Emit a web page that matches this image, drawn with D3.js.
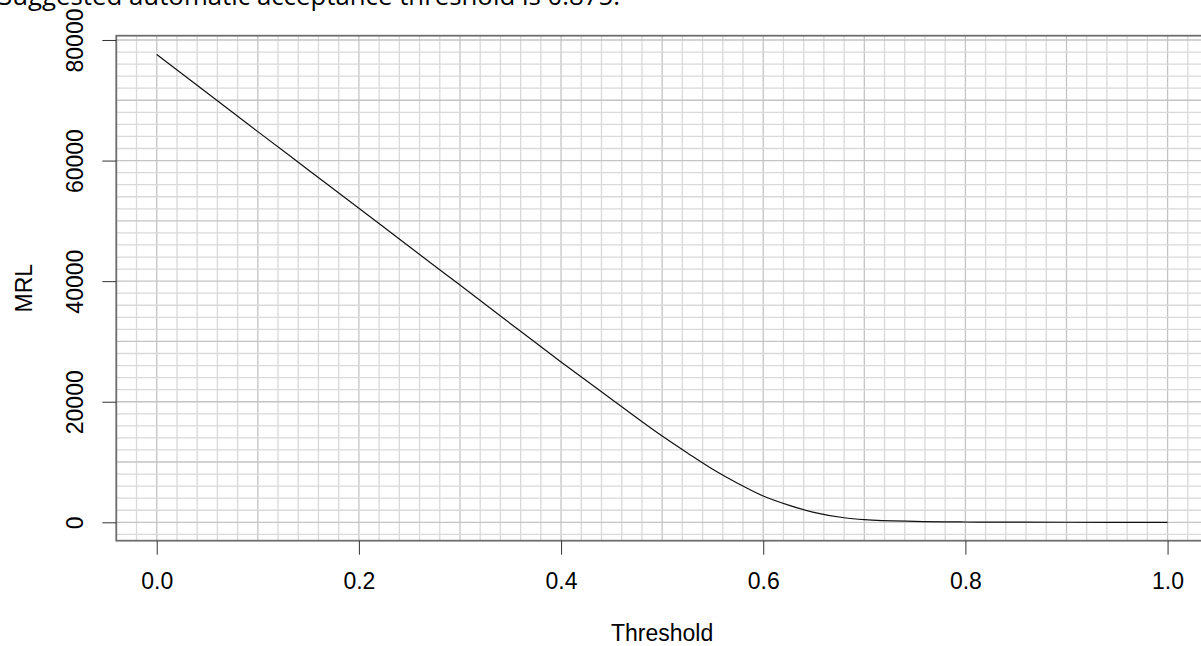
<!DOCTYPE html>
<html>
<head>
<meta charset="utf-8">
<script src="https://cdn.jsdelivr.net/npm/d3@7"></script>
<style>
  html, body { margin: 0; padding: 0; background: #fff; overflow: hidden; }
  svg { display: block; }
</style>
</head>
<body>
<svg id="chart"></svg>
<script>
const w = 1201;
const h = 646;

// data
const thresholds = [0, 0.05, 0.1, 0.15, 0.2, 0.25, 0.3, 0.35, 0.4, 0.45, 0.5, 0.525, 0.55, 0.575, 0.6, 0.625, 0.65, 0.68, 0.7, 0.75, 0.8, 0.85, 0.9, 0.95, 1.0];
const mrl = [77600, 71200, 64800, 58450, 52100, 45700, 39350, 32950, 26600, 20400, 14300, 11500, 8800, 6450, 4360, 2850, 1650, 760, 450, 150, 50, 20, 8, 3, 0];

const xTicks = [0, 0.2, 0.4, 0.6, 0.8, 1.0];
const yTicks = [0, 20000, 40000, 60000, 80000];
const titleText = "Suggested automatic acceptance threshold is 0.875.";

const svg = d3.select("#chart").attr("width", w).attr("height", h);

const xScale = d3.scaleLinear()
    .domain([-0.04, 1.04])
    .range([116.3, 1208]);
const yScale = d3.scaleLinear()
    .domain([-3050, 80710])
    .range([540.7, 35.7]);

// grid (minor + major)
const gx = d3.range(-0.04, 1.041, 0.02).map(v => +v.toFixed(2));
const gy = d3.range(-2000, 80001, 2000);

svg.append("g")
    .selectAll("line")
    .data(gx)
    .enter()
    .append("line")
    .attr("x1", d => xScale(d))
    .attr("x2", d => xScale(d))
    .attr("y1", yScale.range()[0])
    .attr("y2", yScale.range()[1])
    .attr("stroke", d => Math.abs(d * 10 - Math.round(d * 10)) < 1e-6 ? "#c4c4c4" : "#d9d9d9")
    .attr("stroke-width", 1.3);

svg.append("g")
    .selectAll("line")
    .data(gy)
    .enter()
    .append("line")
    .attr("x1", xScale.range()[0])
    .attr("x2", xScale.range()[1])
    .attr("y1", d => yScale(d))
    .attr("y2", d => yScale(d))
    .attr("stroke", d => d % 10000 === 0 ? "#c4c4c4" : "#d9d9d9")
    .attr("stroke-width", 1.3);

// the curve
const line = d3.line()
    .x((d, i) => xScale(thresholds[i]))
    .y(d => yScale(d))
    .curve(d3.curveMonotoneX);

svg.append("path")
    .datum(mrl)
    .attr("d", line)
    .attr("fill", "none")
    .attr("stroke", "#111")
    .attr("stroke-width", 1.2);

// plot box
svg.append("rect")
    .attr("x", xScale.range()[0])
    .attr("y", yScale.range()[1])
    .attr("width", xScale.range()[1] - xScale.range()[0])
    .attr("height", yScale.range()[0] - yScale.range()[1])
    .attr("fill", "none")
    .attr("stroke", "#6e6e6e")
    .attr("stroke-width", 1.8);

const font = "'Liberation Sans', Arial, sans-serif";

// x axis
const xAxis = d3.axisBottom(xScale)
    .tickValues(xTicks)
    .tickFormat(d3.format(".1f"))
    .tickSize(14)
    .tickPadding(18);

const gX = svg.append("g")
    .attr("transform", `translate(0,${yScale.range()[0]})`)
    .call(xAxis);
gX.select(".domain").remove();
gX.selectAll("line").attr("stroke", "#333");
gX.selectAll("text")
    .attr("fill", "#000")
    .style("font-family", font)
    .style("font-size", "23px");

// y axis
const yAxis = d3.axisLeft(yScale)
    .tickValues(yTicks)
    .tickFormat(d3.format("d"))
    .tickSize(14);

const gY = svg.append("g")
    .attr("transform", `translate(${xScale.range()[0]},0)`)
    .call(yAxis);
gY.select(".domain").remove();
gY.selectAll("line").attr("stroke", "#333");
gY.selectAll("text")
    .attr("x", null)
    .attr("dy", null)
    .attr("transform", "translate(-33,0) rotate(-90)")
    .attr("text-anchor", "middle")
    .attr("fill", "#000")
    .style("font-family", font)
    .style("font-size", "23px");

// axis titles
svg.append("text")
    .attr("x", (xScale.range()[0] + xScale.range()[1]) / 2)
    .attr("y", 641)
    .attr("text-anchor", "middle")
    .style("font-family", font)
    .style("font-size", "23px")
    .text("Threshold");

svg.append("text")
    .attr("transform", `translate(31.5,${(yScale.range()[0] + yScale.range()[1]) / 2}) rotate(-90)`)
    .attr("text-anchor", "middle")
    .style("font-family", font)
    .style("font-size", "23px")
    .text("MRL");

// message line above the chart (cut off at the top, as in the reference)
svg.append("text")
    .attr("x", -2)
    .attr("y", 5)
    .attr("textLength", 622)
    .attr("lengthAdjust", "spacingAndGlyphs")
    .style("font-family", "'Open Sans', 'Noto Sans', sans-serif")
    .style("font-size", "25px")
    .attr("fill", "#000")
    .text(titleText);
</script>
</body>
</html>
